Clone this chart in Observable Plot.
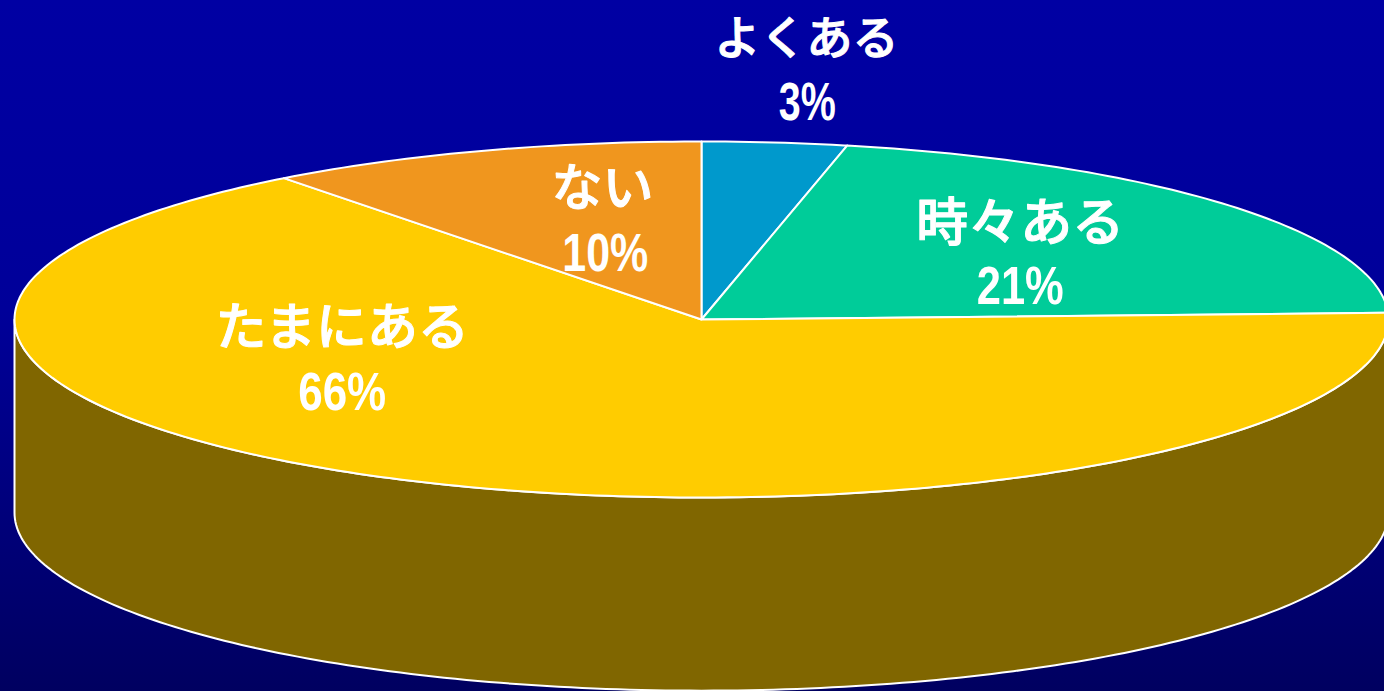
<!DOCTYPE html>
<html lang="ja">
<head>
<meta charset="utf-8">
<script src="https://cdn.jsdelivr.net/npm/d3@7"></script>
<script src="https://cdn.jsdelivr.net/npm/@observablehq/plot@0.6"></script>
<style>
  html, body { margin: 0; padding: 0; width: 1384px; height: 691px; overflow: hidden;
    background: linear-gradient(to bottom, #0000a3 0%, #000099 45%, #000060 100%); }
  svg { display: block; background: transparent !important; }
</style>
</head>
<body>
<div id="chart"></div>
<script>
// Data
const categories = ["よくある", "時々ある", "たまにある", "ない"];
const shares = [3.4, 21.0, 65.2, 10.4];          // slice sizes as measured (percent)
const shareLabels = ["3%", "21%", "66%", "10%"]; // printed labels
const colors = ["#0099cc", "#00cc99", "#ffcc00", "#f0961e"];
const wallColor = "#806600";

// Layout: the disc is a unit circle in the scales; thickness and label anchors are in its units
const thickness = 1.085;
const nameX = [0.153, 0.464, -0.523, -0.144];
const nameY = [1.575, 0.535, -0.05, 0.73];
const nameSize = [46, 52, 51, 51];
const pctX  = [0.154, 0.464, -0.523, -0.14];
const pctY  = [1.215, 0.185, -0.415, 0.365];
const pctFit = [57, 87, 88, 86]; // condensed label widths

const rad = d => d * Math.PI / 180;
const rim = d => ({x: Math.sin(rad(d)), y: Math.cos(rad(d))});

// Build slice outlines from the shares
const total = d3.sum(shares);
let acc = 0;
const slicePaths = shares.map(s => {
  const a0 = acc / total * 360;
  acc += s;
  const a1 = acc / total * 360;
  const pts = [{x: 0, y: 0}];
  for (const d of d3.range(a0, a1, 1)) pts.push(rim(d));
  pts.push(rim(a1), {x: 0, y: 0});
  return pts;
});

// Front wall: the near half of the rim and the same half shifted down
const front = d3.range(90, 271, 1).map(rim);
const wall = [...front, ...front.slice().reverse().map(p => ({x: p.x, y: p.y - thickness}))];
wall.push(wall[0]);

const labelRows = categories.map((c, i) => ({name: c, pct: shareLabels[i], nx: nameX[i], ny: nameY[i], px: pctX[i], py: pctY[i], size: nameSize[i]}));

const plot = Plot.plot({
  width: 1384,
  height: 691,
  margin: 0,
  x: {domain: [-1, 1], range: [14, 1388], axis: null},
  y: {domain: [1, -1], range: [141, 497], axis: null},
  marks: [
    Plot.line(wall, {x: "x", y: "y", fill: wallColor, stroke: "white", strokeWidth: 2, curve: "linear", strokeLinejoin: "round"}),
    ...slicePaths.map((pts, i) =>
      Plot.line(pts, {x: "x", y: "y", fill: colors[i], stroke: "white", strokeWidth: 2, curve: "linear", strokeLinejoin: "round"})
    ),
    Plot.text(labelRows, {x: "nx", y: "ny", text: "name", fill: "white", stroke: "white", strokeWidth: 1, fontSize: "size", fontWeight: 500,
      fontFamily: "'Noto Sans CJK JP', sans-serif", textAnchor: "middle", lineAnchor: "middle"}),
    Plot.text(labelRows, {x: "px", y: "py", text: "pct", fill: "white", fontSize: 53, fontWeight: 700, className: "pct",
      fontFamily: "'Liberation Sans', Arial, sans-serif", textAnchor: "middle", lineAnchor: "middle"})
  ]
});
plot.querySelectorAll(".pct text").forEach((t, i) => {
  t.setAttribute("textLength", pctFit[i]);
  t.setAttribute("lengthAdjust", "spacingAndGlyphs");
});
document.getElementById("chart").appendChild(plot);
</script>
</body>
</html>
